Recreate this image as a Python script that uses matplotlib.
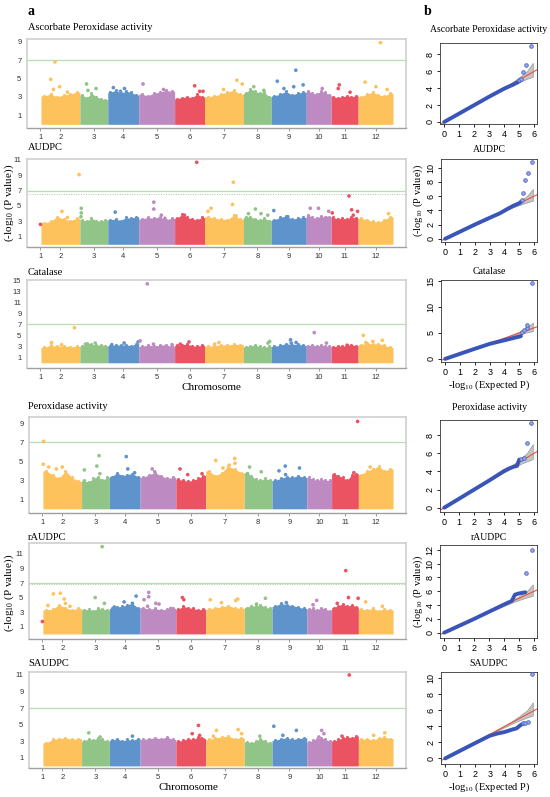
import numpy as np
import matplotlib
matplotlib.use("Agg")
import matplotlib.pyplot as plt

plt.rcParams['font.family'] = ['Liberation Sans', 'DejaVu Sans']
plt.rcParams['mathtext.fontset'] = 'custom'
plt.rcParams['mathtext.rm'] = 'Liberation Serif'
plt.rcParams['mathtext.it'] = 'Liberation Serif:italic'

# ---- chromosome layout (approximate lengths read from block widths) ----
chrom_names = ['1', '2', '3', '4', '5', '6', '7', '8', '9', '10', '11', '12']
chrom_len = [1, 39, 28, 31, 36, 30, 39, 28, 35, 25, 27, 35]

ORANGE = '#FDC25C'
GREEN = '#91C587'
BLUE = '#5F93CB'
PURPLE = '#BE8AC2'
RED = '#EC5362'
chrom_cols = [RED, ORANGE, GREEN, BLUE, PURPLE, RED, ORANGE, GREEN, BLUE, PURPLE, RED, ORANGE]

traits = ['Ascorbate Peroxidase activity', 'AUDPC', 'Catalase',
          'Peroxidase activity', 'rAUDPC', 'SAUDPC']

# ---- Manhattan: top of the dense band per chromosome (-log10 P) ----
# chromosome 1 carries almost no markers, so its band is empty
apx_env = [[0.0], [3.1, 3.3, 3.0, 3.2, 3.3, 3.5], [3.2, 2.9, 3.4, 3.0, 2.8, 2.7],
           [3.5, 3.7, 3.4, 3.6, 3.5, 3.2], [3.3, 3.1, 3.4, 3.5, 3.7, 3.6],
           [2.8, 2.9, 3.0, 2.9, 3.3, 3.0], [3.0, 3.1, 3.3, 3.5, 3.7, 3.3],
           [3.4, 3.9, 3.6, 3.4, 3.5, 3.0], [3.1, 3.3, 3.6, 3.2, 3.4, 3.5],
           [3.6, 3.4, 3.3, 3.6, 3.5, 3.2], [3.0, 2.9, 3.0, 3.1, 3.0, 3.1],
           [3.0, 3.3, 3.5, 3.2, 3.1, 3.4]]
audpc_env = [[0.0], [2.8, 3.0, 3.6, 3.3, 3.1, 3.4], [3.2, 3.0, 3.4, 3.1, 3.0, 3.2],
             [3.2, 3.3, 3.1, 3.5, 3.4, 3.6], [3.3, 3.5, 3.4, 3.6, 3.2, 3.4],
             [3.4, 3.9, 3.5, 3.3, 3.2, 3.5], [3.6, 3.4, 3.3, 3.2, 3.8, 3.3],
             [3.5, 3.6, 3.3, 3.2, 3.4, 3.1], [3.2, 3.5, 3.7, 3.3, 3.4, 3.5],
             [3.8, 3.5, 3.4, 3.7, 3.5, 3.6], [3.5, 3.3, 3.4, 3.3, 3.6, 3.4],
             [3.4, 3.2, 3.0, 2.9, 3.2, 3.6]]
cat_env = [[0.0], [2.8, 3.2, 3.0, 3.1, 2.9, 3.0], [3.0, 3.7, 3.4, 3.2, 3.3, 3.1],
           [3.1, 3.3, 3.2, 3.3, 3.1, 3.5], [3.0, 3.2, 3.1, 3.2, 3.3, 3.0],
           [3.2, 3.3, 3.4, 3.1, 3.0, 3.2], [3.0, 3.1, 3.3, 3.2, 3.4, 3.3],
           [2.9, 3.1, 3.2, 3.0, 2.8, 3.0], [3.0, 3.2, 3.5, 3.3, 3.4, 3.2],
           [3.1, 3.3, 3.0, 3.2, 3.1, 3.0], [2.9, 3.1, 3.0, 3.2, 3.3, 3.1],
           [3.3, 3.6, 3.4, 3.5, 3.2, 2.8]]
pod_env = [[0.0], [4.0, 3.6, 3.2, 4.0, 3.3, 2.9], [3.0, 2.8, 3.2, 3.4, 3.0, 3.3],
           [3.4, 3.8, 3.5, 3.6, 3.7, 3.4], [3.3, 3.6, 3.8, 3.5, 3.2, 3.3],
           [3.1, 3.0, 2.9, 3.0, 3.2, 3.5], [4.0, 3.5, 3.8, 4.5, 4.2, 3.8],
           [3.8, 3.5, 3.1, 3.0, 3.2, 3.0], [3.0, 3.2, 3.4, 3.3, 3.5, 3.3],
           [3.3, 3.1, 3.0, 3.1, 3.0, 3.0], [3.7, 3.5, 3.3, 3.0, 3.6, 3.7],
           [3.6, 4.0, 4.2, 4.5, 4.0, 4.2]]
raudpc_env = [[0.0], [3.3, 3.4, 4.0, 3.6, 3.3, 3.5], [3.3, 3.4, 3.2, 3.5, 3.4, 3.3],
              [3.5, 3.7, 3.8, 4.0, 4.2, 3.6], [3.6, 3.4, 3.5, 3.3, 3.4, 3.5],
              [3.4, 3.8, 3.6, 3.5, 3.3, 3.4], [3.4, 3.6, 3.7, 3.9, 3.6, 3.5],
              [3.6, 3.9, 3.8, 4.0, 3.7, 3.5], [3.8, 4.2, 4.0, 3.9, 3.7, 3.5],
              [3.4, 3.5, 3.3, 3.6, 3.4, 3.2], [3.6, 3.9, 4.1, 3.8, 4.0, 3.7],
              [3.4, 3.3, 3.5, 3.2, 3.4, 3.3]]
saudpc_env = [[0.0], [2.8, 3.2, 3.3, 3.4, 3.2, 3.3], [3.0, 3.3, 3.1, 3.4, 3.2, 3.0],
              [3.1, 3.3, 3.0, 3.2, 3.1, 3.3], [3.2, 3.3, 3.4, 3.3, 3.5, 3.2],
              [3.0, 3.1, 3.3, 3.2, 3.5, 3.3], [3.2, 3.4, 3.5, 3.6, 3.3, 3.4],
              [2.9, 2.8, 3.0, 3.3, 3.0, 2.8], [3.1, 3.3, 3.4, 3.2, 3.3, 3.4],
              [2.9, 3.1, 3.3, 3.4, 3.2, 3.0], [3.0, 3.2, 3.4, 3.5, 3.4, 3.6],
              [3.2, 3.3, 3.1, 3.4, 3.5, 3.3]]

# ---- Manhattan: individual SNPs above the band (chromosome, relative position, -log10 P) ----
apx_hits = [(2, .25, 4.9), (2, .36, 6.8), (2, .32, 3.8), (2, .48, 4.1), (2, .68, 3.5),
            (3, .24, 4.4), (3, .58, 3.9), (3, .29, 3.7), (4, .18, 4.0), (4, .54, 3.9),
            (4, .41, 3.6), (5, .12, 4.4), (5, .69, 3.8), (6, .67, 4.2), (6, .84, 3.6),
            (6, .95, 3.6), (7, .83, 4.8), (7, .97, 4.4), (7, .49, 3.8), (8, .37, 4.1),
            (8, .73, 3.7), (9, .17, 4.7), (9, .70, 5.9), (9, .91, 4.3), (9, .64, 4.1),
            (9, .36, 3.9), (10, .64, 3.9), (11, .30, 4.3), (11, .26, 3.9), (11, .70, 3.5),
            (12, .64, 8.9), (12, .20, 4.6), (12, .51, 4.1), (12, .83, 3.8)]
audpc_hits = [(1, .5, 2.6), (2, .54, 4.3), (2, .98, 9.1), (2, .68, 3.5), (3, .05, 4.7),
              (3, .05, 4.1), (3, .04, 3.6), (4, .24, 4.2), (5, .42, 5.5), (5, .42, 4.6),
              (5, .63, 3.8), (5, .73, 3.4), (6, .74, 10.7), (6, .33, 3.8), (7, .17, 4.7),
              (7, .09, 4.3), (7, .74, 8.1), (7, .72, 5.2), (7, .81, 3.7), (8, .43, 4.6),
              (8, .18, 4.0), (8, .63, 4.0), (8, .87, 3.8), (9, .07, 4.4), (9, .47, 3.6),
              (10, .16, 4.7), (10, .49, 4.7), (10, .90, 4.3), (10, .83, 3.4), (11, .66, 6.3),
              (11, .76, 4.5), (11, .98, 4.3), (11, .04, 4.1), (11, .82, 3.8), (12, .87, 4.0)]
cat_hits = [(2, .27, 3.7), (2, .86, 6.4), (2, .53, 3.3), (3, .20, 3.4), (3, .55, 3.6),
            (4, .53, 3.6), (4, .98, 3.8), (4, .13, 3.3), (5, .04, 4.0), (5, .24, 14.4),
            (5, .41, 3.4), (5, .93, 3.3), (6, .48, 3.8), (6, .19, 3.4), (7, .26, 3.4),
            (7, .37, 3.7), (8, .94, 3.9), (8, .88, 3.6), (9, .55, 4.2), (9, .57, 3.6),
            (9, .71, 3.7), (10, .32, 5.5), (10, .81, 3.6), (11, .59, 3.2), (12, .15, 5.0),
            (12, .42, 3.9), (12, .69, 4.1), (12, .22, 3.7)]
pod_hits = [(2, .02, 7.1), (2, .01, 4.7), (2, .15, 4.4), (2, .50, 4.4), (2, .35, 4.2),
            (3, .63, 5.6), (3, .55, 4.5), (3, .10, 4.1), (3, .66, 3.7), (4, .55, 5.5),
            (4, .60, 4.2), (4, .82, 3.8), (5, .34, 4.2), (5, .41, 3.9), (6, .14, 4.2),
            (6, .40, 3.6), (6, .88, 3.7), (7, .26, 5.1), (7, .75, 5.3), (7, .76, 4.8),
            (7, .61, 4.6), (7, .45, 4.3), (8, .19, 4.4), (8, .61, 3.9), (8, .12, 3.7),
            (9, .38, 4.5), (9, .79, 4.3), (9, .20, 4.0), (9, .39, 3.6), (11, .97, 9.2),
            (11, .83, 3.8), (12, .34, 4.4)]
raudpc_hits = [(1, .5, 1.7), (2, .27, 5.5), (2, .45, 5.6), (2, .13, 3.9), (2, .55, 4.8),
               (2, .58, 4.2), (2, .70, 3.8), (3, .74, 12.0), (3, .49, 5.0), (3, .82, 4.2),
               (4, .87, 5.2), (4, .48, 4.4), (4, .75, 4.2), (4, .16, 3.7), (5, .24, 5.7),
               (5, .24, 5.1), (5, .11, 4.7), (5, .44, 4.2), (5, .21, 3.8), (5, .86, 3.5),
               (5, .53, 4.1), (6, .22, 5.0), (6, .27, 4.7), (7, .12, 4.7), (7, .41, 4.3),
               (7, .78, 4.6), (7, .83, 4.8), (8, .76, 4.9), (8, .44, 4.1), (9, .41, 4.3),
               (10, .40, 4.6), (10, .25, 4.0), (11, .53, 8.7), (11, .63, 5.0), (11, .99, 4.9),
               (11, .21, 4.2), (12, .21, 4.4), (12, .69, 3.8)]
saudpc_hits = [(3, .26, 4.0), (3, .67, 3.5), (4, .75, 3.6), (6, .76, 4.9), (6, .55, 3.9),
               (6, .80, 3.7), (6, .87, 3.3), (7, .28, 4.3), (7, .84, 4.4), (7, .20, 3.6),
               (7, .93, 3.9), (8, .56, 3.6), (9, .05, 4.8), (9, .70, 4.3), (9, .31, 3.7),
               (10, .60, 4.3), (10, .69, 3.9), (10, .49, 3.5), (11, .66, 11.0), (11, .39, 3.6),
               (12, .76, 4.0), (12, .44, 3.7)]

man_env = [apx_env, audpc_env, cat_env, pod_env, raudpc_env, saudpc_env]
man_hits = [apx_hits, audpc_hits, cat_hits, pod_hits, raudpc_hits, saudpc_hits]
man_ylim = [(-0.4, 9.3), (-0.35, 11.13), (-0.95, 15.1), (-0.44, 9.67), (-0.7, 12.5), (-0.25, 11.36)]
man_yticks = [[1, 3, 5, 7, 9], [1, 3, 5, 7, 9, 11], [1, 3, 5, 7, 9, 11, 13, 15],
              [1, 3, 5, 7, 9], [1, 3, 5, 7, 9, 11], [1, 3, 5, 7, 9, 11]]
sig_line = 7.0
sugg_line = [None, 6.6, None, None, 6.8, None]

# ---- QQ plots: expected vs observed -log10 P ----
apx_qq = [(0, 0), (1, 1), (2, 2), (3, 3), (4, 3.95), (4.5, 4.35), (4.9, 4.7), (5.1, 4.95)]
apx_qq_tail = [(4.97, 5.0), (5.1, 5.1), (5.26, 5.96), (5.44, 6.8), (5.8, 9.0)]
audpc_qq = [(0, 0), (1, 1), (2, 2), (3, 2.95), (3.7, 3.6), (4.2, 4.2), (4.6, 4.65), (5.0, 5.0), (5.1, 5.2)]
audpc_qq_tail = [(5.14, 5.5), (5.25, 6.46), (5.37, 8.25), (5.55, 9.3), (5.87, 10.75)]
cat_qq = [(0, 0), (1, 0.98), (2, 1.95), (3, 2.9), (4, 3.6), (5, 4.3), (5.1, 4.4)]
cat_qq_tail = [(5.2, 5.2), (5.3, 5.5), (5.5, 5.9), (5.54, 6.6), (5.84, 14.55)]
pod_qq = [(0, 0), (1, 1), (2, 2), (3, 3), (4, 4.05), (4.3, 4.3), (4.6, 4.5), (4.85, 4.6), (5.0, 5.3)]
pod_qq_tail = [(5.1, 5.4), (5.3, 5.5), (5.5, 7.15), (5.8, 9.3)]
raudpc_qq = [(0, 0), (1, 1), (2, 2), (3, 3.05), (4, 4.1), (4.5, 4.6), (4.71, 5.5), (4.93, 5.66), (5.4, 5.85)]
raudpc_qq_tail = [(5.46, 8.7), (5.83, 12.0)]
saudpc_qq = [(0, 0), (1, 0.95), (2, 1.9), (3, 2.83), (3.5, 3.1), (4, 3.3), (4.5, 3.6), (4.8, 3.75),
             (5.1, 4.2), (5.24, 4.3)]
saudpc_qq_tail = [(5.24, 4.4), (5.4, 4.45), (5.55, 4.6), (5.84, 10.5)]

qq_bulk = [apx_qq, audpc_qq, cat_qq, pod_qq, raudpc_qq, saudpc_qq]
qq_tail = [apx_qq_tail, audpc_qq_tail, cat_qq_tail, pod_qq_tail, raudpc_qq_tail, saudpc_qq_tail]
qq_ylim = [(-0.24, 9.35), (-0.45, 11.2), (-0.6, 15.2), (-0.47, 9.65), (-0.77, 12.7), (-0.7, 10.8)]
qq_yticks = [[0, 2, 4, 6, 8], [0, 2, 4, 6, 8, 10], [0, 5, 10, 15], [0, 2, 4, 6, 8],
             [0, 2, 4, 6, 8, 10, 12], [0, 2, 4, 6, 8, 10]]

# confidence band around the diagonal
ci_x = [3.0, 4.0, 4.5, 5.0, 5.5, 5.9]
ci_lo = [2.97, 3.9, 4.35, 4.75, 5.1, 5.35]
ci_hi = [3.03, 4.1, 4.65, 5.3, 6.0, 7.0]

# ---- figure ----
W, H = 550, 797
fig = plt.figure(figsize=(W / 100, H / 100), dpi=100)


def px_axes(x0, y0, x1, y1):
    return fig.add_axes([x0 / W, 1 - y1 / H, (x1 - x0) / W, (y1 - y0) / H])


man_boxes = [(27, 39, 406, 128), (27, 159, 406, 247), (27, 280, 406, 368),
             (29, 417, 406, 513), (29, 543, 406, 639), (29, 672, 406, 768)]
man_title_y = [28, 148, 272, 407, 537, 663]
qq_boxes = [(440, 43, 537, 124), (441, 159, 537, 242), (441, 280, 537, 362),
            (440, 420, 537, 512), (440, 545, 537, 638), (441, 672, 537, 764)]
qq_title_y = [29, 150, 271, 408, 537, 663]

starts = np.concatenate([[0], np.cumsum(chrom_len)[:-1]])
centers = starts + np.array(chrom_len) / 2.0
total = sum(chrom_len)

serif = ['Liberation Serif', 'DejaVu Serif']

for k in range(6):
    ax = px_axes(*man_boxes[k])
    env = man_env[k]
    for c in range(12):
        vals = env[c]
        if max(vals) <= 0:
            continue
        n = len(vals)
        xs = starts[c] + (np.arange(n) + 0.5) / n * chrom_len[c]
        xf = np.concatenate([[starts[c]], xs, [starts[c] + chrom_len[c]]])
        yf = np.concatenate([[vals[0]], vals, [vals[-1]]])
        ax.fill_between(xf, 0, yf, color=chrom_cols[c], lw=0)
        ax.scatter(xs, vals, s=5, color=chrom_cols[c], lw=0)
    hits = man_hits[k]
    hx = [starts[h[0] - 1] + h[1] * chrom_len[h[0] - 1] for h in hits]
    hy = [h[2] for h in hits]
    hc = [chrom_cols[h[0] - 1] for h in hits]
    ax.scatter(hx, hy, s=7, c=hc, lw=0, zorder=3)
    ax.axhline(sig_line, color='#B9DDB3', lw=0.9, zorder=1)
    if sugg_line[k] is not None:
        ax.axhline(sugg_line[k], color='#A9C9A5', lw=0.7, ls=(0, (1, 1.5)), zorder=1)
    ax.set_xlim(-13, total + 13)
    ax.set_ylim(*man_ylim[k])
    ax.set_xticks(centers)
    ax.set_xticklabels(chrom_names)
    ax.set_yticks(man_yticks[k])
    ax.tick_params(axis='x', length=2.5, width=0.6, color='#888888', labelsize=5.5,
                   labelcolor='#333333', pad=2)
    ax.tick_params(axis='y', length=0, labelsize=5.5, labelcolor='#333333', pad=4)
    for side in ['top', 'right', 'left']:
        ax.spines[side].set_color('#CFCFCF')
        ax.spines[side].set_linewidth(1.2)
    ax.spines['bottom'].set_color('#A0A0A0')
    ax.spines['bottom'].set_linewidth(1.0)
    fig.text(28 / W, 1 - man_title_y[k] / H, traits[k], family=serif, fontsize=7.5,
             ha='left', va='center')

    qa = px_axes(*qq_boxes[k])
    qa.fill_between(ci_x, ci_lo, ci_hi, color='#C4C4C4', lw=0.5, edgecolor='#9A9A9A')
    qa.axline((0, 0), slope=1, color='#F0503C', lw=0.8, zorder=2)
    bx = [p[0] for p in qq_bulk[k]]
    by = [p[1] for p in qq_bulk[k]]
    qa.plot(bx, by, color='#3A55B8', lw=2.8, solid_capstyle='round', zorder=3)
    tx = [p[0] for p in qq_tail[k]]
    ty = [p[1] for p in qq_tail[k]]
    qa.plot(tx, ty, ls='none', marker='o', ms=2.6, mfc='#9AAAE6', mec='#4B63C8',
            mew=0.6, zorder=4)
    qa.set_xlim(-0.28, 6.18)
    qa.set_ylim(*qq_ylim[k])
    qa.set_xticks(range(7))
    qa.set_yticks(qq_yticks[k])
    qa.tick_params(length=2.5, width=0.6, labelsize=6.5, pad=1.5)
    for lab in qa.get_yticklabels():
        lab.set_rotation(90)
        lab.set_va('center')
    for side in qa.spines:
        qa.spines[side].set_linewidth(0.6)
        qa.spines[side].set_color('#333333')
    fig.text(489 / W, 1 - qq_title_y[k] / H, traits[k], family=serif, fontsize=7,
             ha='center', va='center')

ylab = r'(-log$_{\mathrm{10}}$ (P value))'
fig.text(9 / W, 1 - 203 / H, ylab, family=serif, fontsize=8, rotation=90,
         ha='center', va='center')
fig.text(9 / W, 1 - 593 / H, ylab, family=serif, fontsize=8, rotation=90,
         ha='center', va='center')
fig.text(418 / W, 1 - 200 / H, ylab, family=serif, fontsize=7.5, rotation=90,
         ha='center', va='center')
fig.text(418 / W, 1 - 591 / H, ylab, family=serif, fontsize=7.5, rotation=90,
         ha='center', va='center')

xlab = r'-log$_{\mathrm{10}}$ (Expected P)'
fig.text(489 / W, 1 - 385 / H, xlab, family=serif, fontsize=7.5, ha='center', va='center')
fig.text(489 / W, 1 - 787 / H, xlab, family=serif, fontsize=7.5, ha='center', va='center')

fig.text(211 / W, 1 - 387 / H, 'Chromosome', family=serif, fontsize=8, ha='center', va='center')
fig.text(188 / W, 1 - 788 / H, 'Chromosome', family=serif, fontsize=8, ha='center', va='center')

fig.text(27 / W, 1 - 15 / H, 'a', family=serif, fontsize=10, fontweight='bold',
         ha='left', va='baseline')
fig.text(424 / W, 1 - 15 / H, 'b', family=serif, fontsize=10, fontweight='bold',
         ha='left', va='baseline')

fig.savefig('out.png', dpi=100)
